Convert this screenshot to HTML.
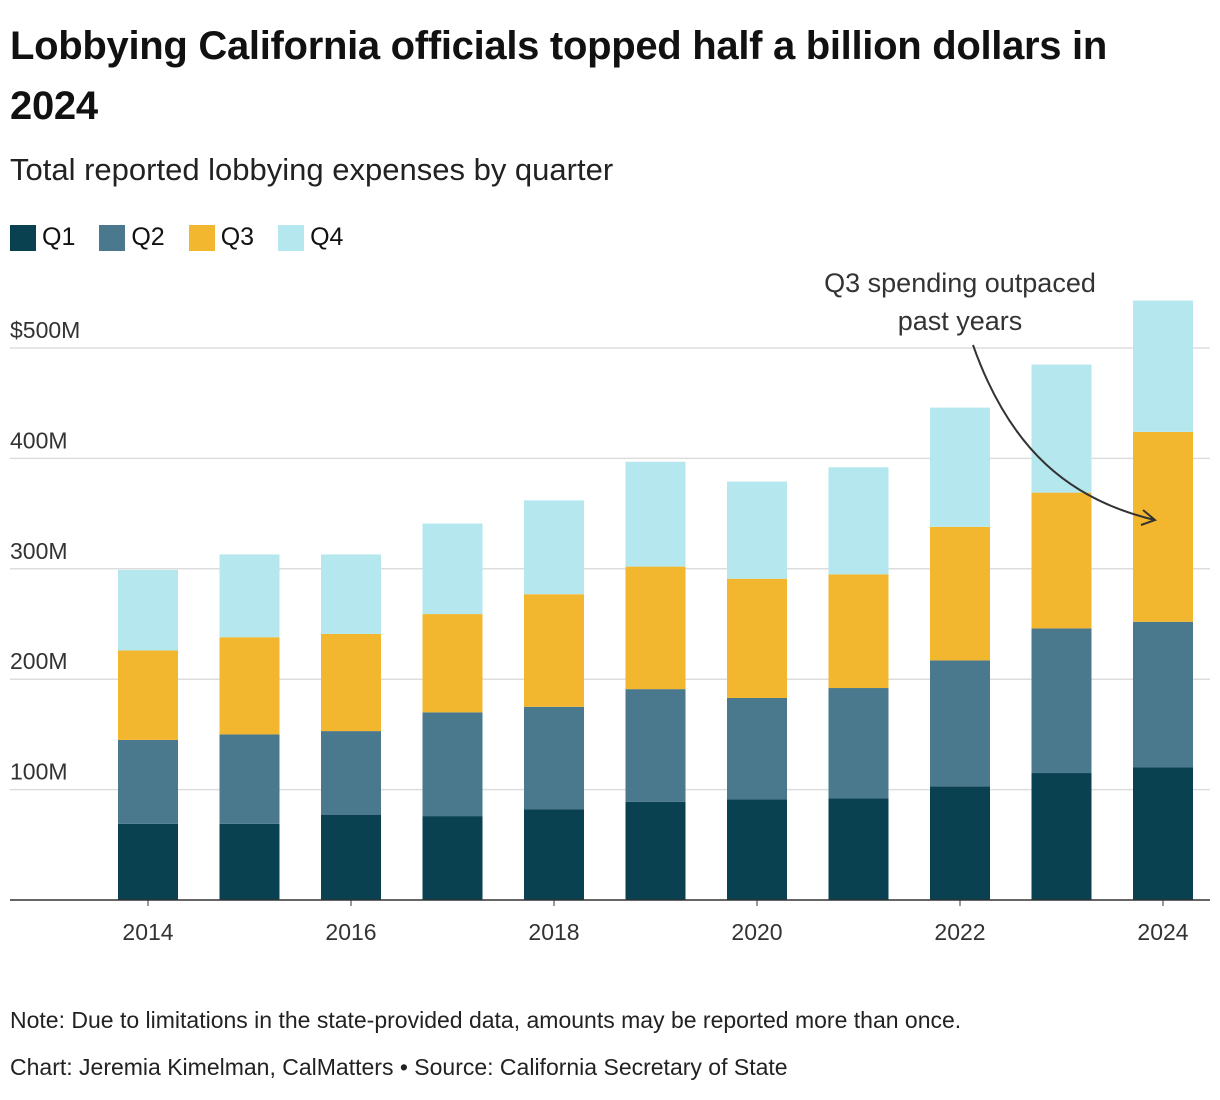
<!DOCTYPE html>
<html><head><meta charset="utf-8"><style>
body{margin:0;background:#fff;font-family:"Liberation Sans",sans-serif;color:#111;}
#wrap{position:relative;width:1220px;height:1100px;overflow:hidden;}
.t{position:absolute;white-space:nowrap;}
</style></head><body><div id="wrap">
<div class="t" style="left:10px;top:16px;font-size:40px;font-weight:bold;line-height:60px;letter-spacing:-0.3px">Lobbying California officials topped half a billion dollars in<br>2024</div>
<div class="t" style="left:10px;top:152px;font-size:31px;color:#222">Total reported lobbying expenses by quarter</div>
<div class="t" style="left:10px;top:223px;font-size:25px;display:flex;gap:0">
<span style="display:flex;align-items:center;margin-right:24px"><i style="width:26px;height:26px;background:#0a4150;margin-right:6px"></i>Q1</span>
<span style="display:flex;align-items:center;margin-right:24px"><i style="width:26px;height:26px;background:#4a788c;margin-right:6px"></i>Q2</span>
<span style="display:flex;align-items:center;margin-right:24px"><i style="width:26px;height:26px;background:#f2b72f;margin-right:6px"></i>Q3</span>
<span style="display:flex;align-items:center"><i style="width:26px;height:26px;background:#b5e8ee;margin-right:6px"></i>Q4</span>
</div>
<svg id="svg" width="1220" height="1100" style="position:absolute;left:0;top:0"></svg>
<div class="t" style="left:10px;top:1007px;font-size:23px;color:#222">Note: Due to limitations in the state-provided data, amounts may be reported more than once.</div>
<div class="t" style="left:10px;top:1054px;font-size:23px;color:#222">Chart: Jeremia Kimelman, CalMatters • Source: California Secretary of State</div>
</div>
<script>
const years=[2014,2015,2016,2017,2018,2019,2020,2021,2022,2023,2024];
const q1=[69,69,77,76,82,89,91,92,103,115,120];
const q2=[76,81,76,94,93,102,92,100,114,131,132];
const q3=[81,88,88,89,102,111,108,103,121,123,172];
const q4=[73,75,72,82,85,95,88,97,108,116,119];
const yTicks=[100,200,300,400,500];
const yTickLabels=["100M","200M","300M","400M","$500M"];
const xTickYears=[2014,2016,2018,2020,2022,2024];
const colors=["#0a4150","#4a788c","#f2b72f","#b5e8ee"];
const NS="http://www.w3.org/2000/svg",svg=document.getElementById('svg');
const y=v=>900-v*1.104;
const x=yr=>148+(yr-2014)*101.5;
function mk(t,a){const e=document.createElementNS(NS,t);for(const k in a)e.setAttribute(k,a[k]);svg.appendChild(e);return e;}
yTicks.forEach((v,i)=>{
 const l=mk('line',{x1:10,x2:1210,y1:y(v),y2:y(v),stroke:'#ddd','stroke-width':1.5});
 
 
 const t=mk('text',{x:10,y:y(v)-10,'font-size':23,fill:'#333','font-family':'Liberation Sans'});t.textContent=yTickLabels[i];
 
 
});
const series=[q1,q2,q3,q4];
years.forEach((yr,i)=>{let base=0;series.forEach((s,k)=>{
 const r=mk('rect',{x:x(yr)-30,width:60,y:y(base+s[i]),height:y(base)-y(base+s[i]),fill:colors[k]});
 
 
 base+=s[i];});});
const ax=mk('line',{x1:10,x2:1210,y1:900,y2:900,stroke:'#333','stroke-width':1.5});


xTickYears.forEach(yr=>{
 const tk=mk('line',{x1:x(yr),x2:x(yr),y1:900,y2:906,stroke:'#333'});
 
 
 const t=mk('text',{x:x(yr),y:940,'font-size':23,fill:'#333','text-anchor':'middle','font-family':'Liberation Sans'});t.textContent=yr;
 
 
});
const a1=mk('text',{x:960,y:292,'font-size':27,fill:'#333','text-anchor':'middle','font-family':'Liberation Sans'});a1.textContent='Q3 spending outpaced';


const a2=mk('text',{x:960,y:330,'font-size':27,fill:'#333','text-anchor':'middle','font-family':'Liberation Sans'});a2.textContent='past years';


const ar=mk('path',{d:'M973 345 C1010 450 1070 500 1155 520 M1143 510 L1155 520 L1141 525',fill:'none',stroke:'#333','stroke-width':2});


</script></body></html>
